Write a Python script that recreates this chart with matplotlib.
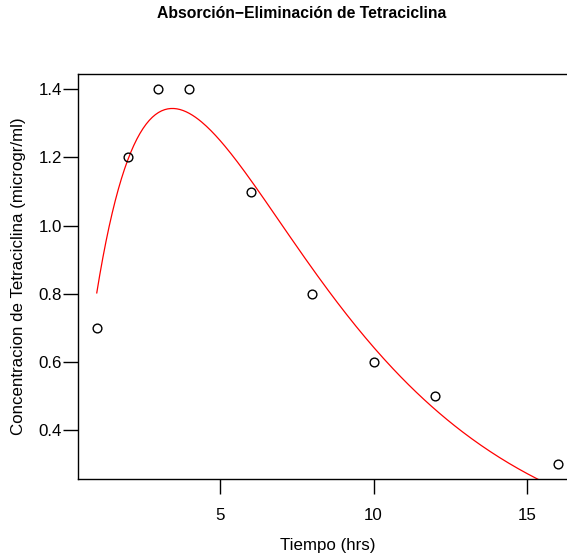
import matplotlib
matplotlib.use("Agg")
import matplotlib.pyplot as plt
import numpy as np

plt.rcParams['font.family'] = ['Liberation Sans', 'DejaVu Sans']

# observed data
tiempo = [1, 2, 3, 4, 6, 8, 10, 12, 16]
conc = [0.7, 1.2, 1.4, 1.4, 1.1, 0.8, 0.6, 0.5, 0.3]

# fitted absorption-elimination model  A*(exp(-ke*t) - exp(-ka*t))
A = 4.5457
ke = 0.186
ka = 0.425

xticks = [5, 10, 15]
yticks = [0.4, 0.6, 0.8, 1.0, 1.2, 1.4]

fig = plt.figure(figsize=(5.67, 5.6), dpi=100)
ax = fig.add_axes([0.1381, 0.1446, 1.017 - 0.1381, 0.8673 - 0.1446])

t = np.linspace(1, 16, 300)
ax.plot(t, A * (np.exp(-ke * t) - np.exp(-ka * t)), color='red', lw=0.9)
ax.plot(tiempo, conc, 'o', mfc='none', mec='black', ms=6.3, mew=1.0)

ax.set_xlim(0.4, 16.6)
ax.set_ylim(0.256, 1.444)
ax.set_xticks(xticks)
ax.set_yticks(yticks)
ax.set_yticklabels(['%.1f' % v for v in yticks])
ax.tick_params(direction='out', length=10.8, width=1.0, labelsize=12.2)
ax.tick_params(axis='x', pad=10)
ax.tick_params(axis='y', pad=1)
for s in ax.spines.values():
    s.set_linewidth(1.0)

ax.set_xlabel('Tiempo (hrs)', fontsize=12.2, labelpad=11)
ax.set_ylabel('Concentracion de Tetraciclina (microgr/ml)', fontsize=12.2, labelpad=9)
fig.text(302 / 567, 1 - 13 / 560, 'Absorción\u2212Eliminación de Tetraciclina',
         ha='center', va='center', fontsize=11.3, fontweight='bold')

fig.savefig('out.png', dpi=100)
